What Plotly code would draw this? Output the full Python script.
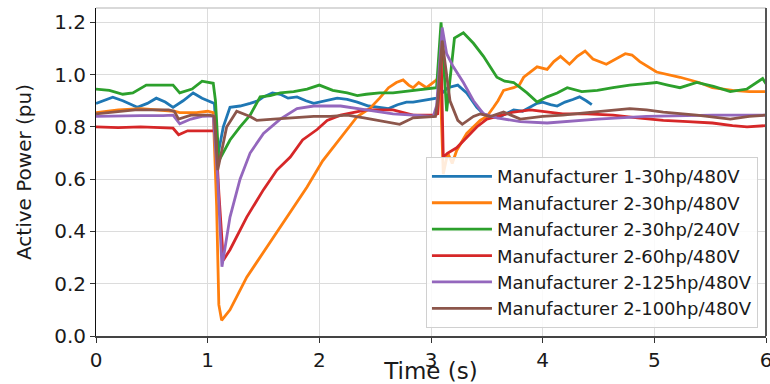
import plotly.graph_objects as go

# ---- data ----
names = ["Manufacturer 1-30hp/480V", "Manufacturer 2-30hp/480V", "Manufacturer 2-30hp/240V",
         "Manufacturer 2-60hp/480V", "Manufacturer 2-125hp/480V", "Manufacturer 2-100hp/480V"]
colors = ["#1f77b4", "#ff7f0e", "#2ca02c", "#d62728", "#9467bd", "#8c564b"]

t_m1_30_480 = [0, 0.07, 0.15, 0.24, 0.37, 0.46, 0.54, 0.62, 0.69, 0.78, 0.87, 0.95, 1.04, 1.06, 1.09,
               1.14, 1.2, 1.29, 1.38, 1.45, 1.5, 1.58, 1.65, 1.72, 1.8, 1.88, 1.95, 2.05, 2.16, 2.25,
               2.34, 2.44, 2.54, 2.62, 2.7, 2.78, 2.84, 2.92, 2.99, 3.05, 3.1, 3.15, 3.24, 3.32, 3.41,
               3.47, 3.53, 3.6, 3.67, 3.74, 3.82, 3.89, 3.95, 4.0, 4.07, 4.13, 4.2, 4.27, 4.33, 4.39, 4.44]
p_m1_30_480 = [0.89, 0.9, 0.914, 0.9, 0.875, 0.89, 0.91, 0.895, 0.875, 0.9, 0.93, 0.91, 0.895, 0.89, 0.69,
               0.8, 0.875, 0.88, 0.89, 0.9, 0.915, 0.93, 0.925, 0.91, 0.915, 0.9, 0.89, 0.9, 0.91, 0.905,
               0.895, 0.88, 0.875, 0.87, 0.885, 0.895, 0.895, 0.9, 0.905, 0.91, 0.93, 0.95, 0.96, 0.93, 0.875,
               0.85, 0.84, 0.835, 0.85, 0.865, 0.86, 0.875, 0.89, 0.895, 0.885, 0.88, 0.895, 0.905, 0.915, 0.9, 0.885]

t_m2_30_480 = [0, 0.2, 0.4, 0.6, 0.7, 0.75, 0.9, 1.0, 1.05, 1.08, 1.1, 1.125, 1.2, 1.35, 1.53, 1.74,
               1.89, 2.03, 2.19, 2.34, 2.45, 2.54, 2.62, 2.69, 2.75, 2.8, 2.84, 2.89, 2.96, 3.02, 3.05,
               3.08, 3.11, 3.15, 3.19, 3.23, 3.29, 3.32, 3.44, 3.5, 3.56, 3.6, 3.65, 3.74, 3.79, 3.83,
               3.95, 4.04, 4.1, 4.16, 4.24, 4.31, 4.38, 4.45, 4.57, 4.65, 4.74, 4.8, 4.87, 5.02, 5.23,
               5.4, 5.52, 5.7, 5.85, 6.0]
p_m2_30_480 = [0.855, 0.865, 0.87, 0.865, 0.86, 0.855, 0.855, 0.86, 0.855, 0.5, 0.12, 0.06, 0.1, 0.225,
               0.34, 0.47, 0.57, 0.67, 0.76, 0.84, 0.87, 0.91, 0.95, 0.97, 0.98, 0.96, 0.95, 0.97, 0.95,
               0.97, 0.98, 1.0, 0.62, 0.7, 0.66, 0.71, 0.75, 0.775, 0.825, 0.84, 0.875, 0.9, 0.94, 0.95,
               0.96, 0.99, 1.03, 1.02, 1.05, 1.07, 1.04, 1.07, 1.09, 1.06, 1.04, 1.06, 1.08, 1.075, 1.05,
               1.01, 0.99, 0.97, 0.95, 0.94, 0.935, 0.935]

t_m2_30_240 = [0, 0.12, 0.24, 0.33, 0.45, 0.57, 0.69, 0.75, 0.86, 0.95, 1.05, 1.07, 1.1, 1.2, 1.29,
               1.38, 1.47, 1.56, 1.65, 1.77, 1.89, 2.0, 2.12, 2.25, 2.34, 2.42, 2.54, 2.66, 2.75, 2.84,
               2.93, 3.02, 3.05, 3.09, 3.14, 3.21, 3.29, 3.38, 3.47, 3.53, 3.59, 3.66, 3.74, 3.8, 3.86,
               3.95, 4.04, 4.13, 4.22, 4.35, 4.49, 4.63, 4.78, 4.9, 5.02, 5.12, 5.23, 5.38, 5.53, 5.68,
               5.83, 5.97, 6.0]
p_m2_30_240 = [0.945, 0.94, 0.925, 0.93, 0.96, 0.96, 0.96, 0.93, 0.945, 0.975, 0.967, 0.9, 0.67, 0.75,
               0.8, 0.845, 0.915, 0.92, 0.93, 0.935, 0.945, 0.96, 0.94, 0.93, 0.92, 0.925, 0.93, 0.93,
               0.935, 0.94, 0.945, 0.95, 0.95, 1.2, 0.86, 1.14, 1.16, 1.12, 1.07, 1.03, 0.99, 0.975,
               0.97, 0.95, 0.93, 0.895, 0.915, 0.93, 0.95, 0.935, 0.94, 0.95, 0.96, 0.965, 0.97, 0.96,
               0.95, 0.97, 0.955, 0.935, 0.945, 0.985, 0.965]

t_m2_60_480 = [0, 0.2, 0.4, 0.6, 0.69, 0.74, 0.82, 0.95, 1.07, 1.1, 1.14, 1.2, 1.35, 1.5, 1.62, 1.74,
               1.85, 1.98, 2.07, 2.19, 2.3, 2.42, 2.54, 2.66, 2.84, 3.03, 3.06, 3.09, 3.11, 3.15, 3.23,
               3.32, 3.41, 3.5, 3.59, 3.74, 3.89, 4.18, 4.4, 4.63, 4.85, 5.08, 5.3, 5.52, 5.7, 5.83, 6.0]
p_m2_60_480 = [0.8, 0.797, 0.8, 0.797, 0.795, 0.77, 0.785, 0.785, 0.785, 0.55, 0.29, 0.33, 0.455, 0.56,
               0.635, 0.685, 0.75, 0.79, 0.825, 0.845, 0.855, 0.865, 0.865, 0.865, 0.845, 0.845, 0.85,
               1.09, 0.685, 0.7, 0.72, 0.76, 0.8, 0.83, 0.84, 0.857, 0.865, 0.85, 0.85, 0.845, 0.835,
               0.825, 0.82, 0.815, 0.805, 0.8, 0.805]

t_m2_125_480 = [0, 0.2, 0.4, 0.6, 0.69, 0.75, 0.85, 0.95, 1.05, 1.09, 1.128, 1.2, 1.29, 1.38, 1.5,
                1.65, 1.8, 1.95, 2.19, 2.42, 2.66, 2.84, 3.02, 3.05, 3.1, 3.14, 3.2, 3.29, 3.38, 3.47,
                3.59, 3.8, 4.04, 4.49, 4.93, 5.52, 6.0]
p_m2_125_480 = [0.84, 0.842, 0.843, 0.843, 0.845, 0.812, 0.83, 0.84, 0.842, 0.6, 0.265, 0.455, 0.6, 0.7,
                0.775, 0.83, 0.87, 0.88, 0.88, 0.865, 0.85, 0.845, 0.84, 0.88, 1.18, 1.08, 1.03, 0.97,
                0.9, 0.85, 0.835, 0.82, 0.815, 0.83, 0.84, 0.845, 0.845]

t_m2_100_480 = [0, 0.1, 0.2, 0.35, 0.5, 0.65, 0.7, 0.74, 0.85, 1.02, 1.06, 1.09, 1.17, 1.26, 1.38,
                1.44, 1.59, 1.75, 1.95, 2.1, 2.25, 2.4, 2.54, 2.72, 2.84, 3.04, 3.06, 3.1, 3.17, 3.24,
                3.28, 3.38, 3.44, 3.53, 3.65, 3.8, 4.0, 4.18, 4.4, 4.63, 4.78, 4.93, 5.08, 5.38, 5.68, 5.85, 6.0]
p_m2_100_480 = [0.85, 0.855, 0.86, 0.865, 0.865, 0.865, 0.86, 0.83, 0.845, 0.845, 0.84, 0.635, 0.8,
                0.86, 0.84, 0.825, 0.83, 0.835, 0.84, 0.84, 0.845, 0.835, 0.825, 0.81, 0.835, 0.84, 0.9,
                1.13, 0.9, 0.825, 0.81, 0.84, 0.85, 0.84, 0.857, 0.83, 0.84, 0.845, 0.855, 0.865, 0.87,
                0.865, 0.857, 0.845, 0.83, 0.84, 0.845]

x_ticks = [0, 1, 2, 3, 4, 5, 6]
y_ticks = [0.0, 0.2, 0.4, 0.6, 0.8, 1.0, 1.2]
x_title = "Time (s)"
y_title = "Active Power (pu)"

series = [(t_m1_30_480, p_m1_30_480), (t_m2_30_480, p_m2_30_480), (t_m2_30_240, p_m2_30_240),
          (t_m2_60_480, p_m2_60_480), (t_m2_125_480, p_m2_125_480), (t_m2_100_480, p_m2_100_480)]

fig = go.Figure()
for (tx, py), name, col in zip(series, names, colors):
    fig.add_trace(go.Scatter(x=tx, y=py, mode="lines", name=name,
                             line=dict(color=col, width=2.8)))

font_family = "DejaVu Sans"
fig.update_layout(
    width=770, height=384,
    margin=dict(l=96, r=4, t=8, b=48),
    paper_bgcolor="white", plot_bgcolor="white",
    font=dict(family=font_family, color="#1a1a1a"),
    showlegend=True,
    legend=dict(x=0.988, y=0.024, xanchor="right", yanchor="bottom",
                bgcolor="rgba(255,255,255,0.85)", bordercolor="#d0d0d0", borderwidth=1,
                font=dict(size=18, family=font_family, color="#1a1a1a"),
                itemwidth=60, tracegroupgap=0),
    xaxis=dict(range=[0, 6], tickvals=x_ticks, ticktext=[str(v) for v in x_ticks],
               automargin=False, ticklabeloverflow="allow",
               showgrid=True, gridcolor="#dcdcdc", gridwidth=1, zeroline=False,
               showline=True, linecolor="#444", linewidth=2,
               ticks="outside", ticklen=5, tickcolor="#333",
               tickfont=dict(size=20, family=font_family),
               title=dict(text=x_title, font=dict(size=23, family=font_family))),
    yaxis=dict(range=[0, 1.255], tickvals=y_ticks, ticktext=["%.1f" % v for v in y_ticks],
               automargin=True,
               showgrid=True, gridcolor="#dcdcdc", gridwidth=1, zeroline=False,
               showline=True, linecolor="#111", linewidth=1,
               ticks="outside", ticklen=5, tickcolor="#333",
               tickfont=dict(size=20, family=font_family),
               title=dict(text=y_title, font=dict(size=20, family=font_family), standoff=17)),
    shapes=[
        dict(type="line", xref="paper", yref="paper", x0=0, x1=1, y0=1, y1=1,
             line=dict(color="#cccccc", width=1.5)),
        dict(type="line", xref="paper", yref="paper", x0=1, x1=1, y0=0, y1=1,
             line=dict(color="#555555", width=2)),
    ],
)

fig.write_html("out.html", config={"displayModeBar": False},
               post_script="document.body.style.margin='0';")
